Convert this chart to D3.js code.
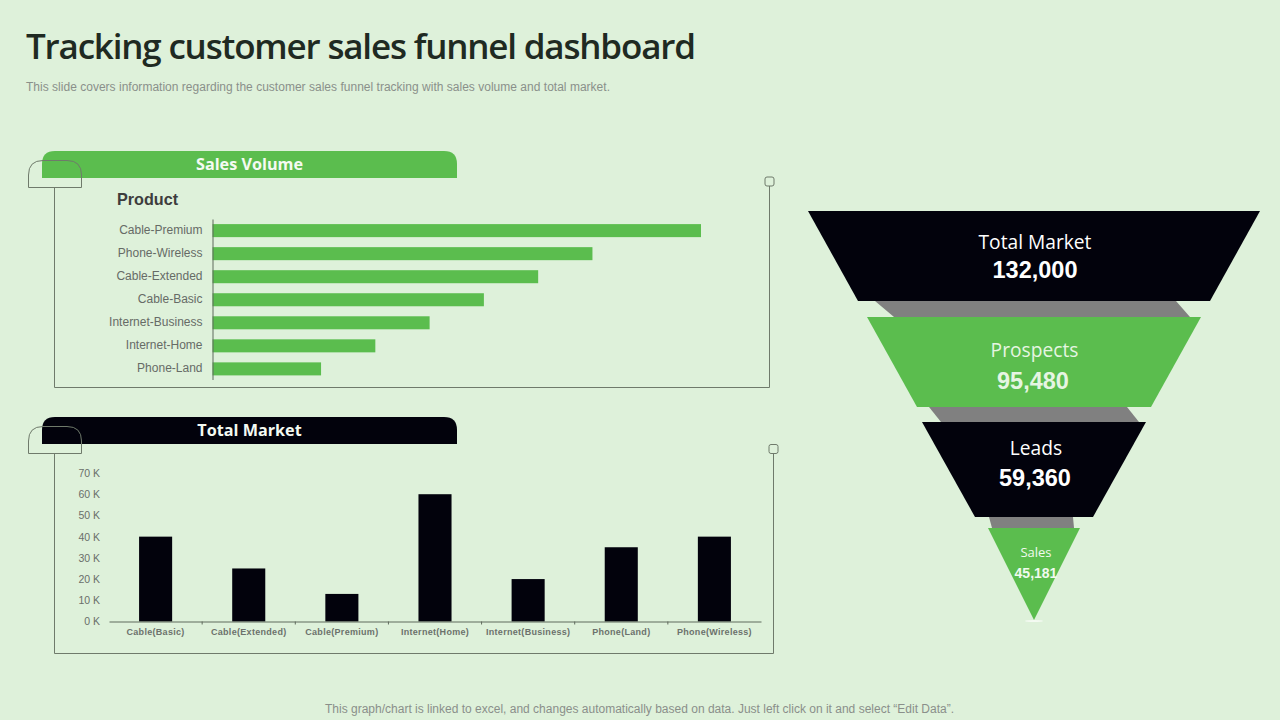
<!DOCTYPE html>
<html>
<head>
<meta charset="utf-8">
<script src="https://d3js.org/d3.v7.min.js"></script>
<style>
  html, body { margin: 0; padding: 0; background: #def1da; }
  svg { display: block; }
  text { font-family: "Liberation Sans", Arial, sans-serif; }
  .head { font-family: "Open Sans", sans-serif; }
  .frame { fill: none; stroke: #6f7a6b; stroke-width: 1px; }
  .axis path, .axis line { stroke: #5f6a5c; }
</style>
</head>
<body>
<div id="chart"></div>
<script>
// sales volume chart
var productNames = ["Cable-Premium", "Phone-Wireless", "Cable-Extended", "Cable-Basic", "Internet-Business", "Internet-Home", "Phone-Land"];
var productVolume = [9, 7, 6, 5, 4, 3, 2];

// total market chart
var marketNames = ["Cable(Basic)", "Cable(Extended)", "Cable(Premium)", "Internet(Home)", "Internet(Business)", "Phone(Land)", "Phone(Wireless)"];
var marketValues = [40, 25, 13, 60, 20, 35, 40];
var marketTicks = [0, 10, 20, 30, 40, 50, 60, 70];

// funnel
var funnelNames = ["Total Market", "Prospects", "Leads", "Sales"];
var funnelValues = [132000, 95480, 59360, 45181];

var green = "#5bbd4e", black = "#02020c", grey = "#808080", bg = "#def1da";

var svg = d3.select("#chart").append("svg").attr("width", 1280).attr("height", 720);

svg.append("text").attr("class", "head")
    .attr("x", 26).attr("y", 59)
    .attr("textLength", 670)
    .attr("font-size", 35).attr("font-weight", 600).attr("fill", "#1f2a22")
    .text("Tracking customer sales funnel dashboard");

svg.append("text")
    .attr("x", 26).attr("y", 91)
    .attr("textLength", 584)
    .attr("font-size", 12).attr("fill", "#8a908a")
    .text("This slide covers information regarding the customer sales funnel tracking with sales volume and total market.");

svg.append("text")
    .attr("x", 325).attr("y", 713)
    .attr("textLength", 629)
    .attr("font-size", 12).attr("fill", "#8a8f8a")
    .text("This graph/chart is linked to excel,  and changes automatically based on data. Just left click on it and select “Edit Data”.");

// header tab + frame around a chart
function panel(top, right, squareTop, color, title) {
    var hdr = d3.path();
    hdr.moveTo(42, top + 27);
    hdr.lineTo(42, top + 13);
    hdr.quadraticCurveTo(42, top, 55, top);
    hdr.lineTo(444, top);
    hdr.quadraticCurveTo(457, top, 457, top + 13);
    hdr.lineTo(457, top + 27);
    hdr.closePath();
    svg.append("path").attr("d", hdr.toString()).attr("fill", color);

    svg.append("text").attr("class", "head")
        .attr("x", 249.5).attr("y", top + 19)
        .attr("text-anchor", "middle")
        .attr("font-size", 16.2).attr("font-weight", 700).attr("fill", "#f4faf2")
        .text(title);

    var tab = d3.path();
    tab.moveTo(28.5, top + 36.5);
    tab.lineTo(28.5, top + 24);
    tab.quadraticCurveTo(28.5, top + 9.5, 43, top + 9.5);
    tab.lineTo(67, top + 9.5);
    tab.quadraticCurveTo(81.5, top + 9.5, 81.5, top + 24);
    tab.lineTo(81.5, top + 36.5);
    tab.closePath();
    svg.append("path").attr("class", "frame").attr("d", tab.toString());

    var bottom = top + 236.5;
    svg.append("path").attr("class", "frame")
        .attr("d", "M54.5," + (top + 36.5) + "V" + bottom + "H" + right + "V" + (squareTop + 9));

    svg.append("rect").attr("class", "frame")
        .attr("x", right - 4.5).attr("y", squareTop).attr("width", 9).attr("height", 9).attr("rx", 2);
}

panel(151, 769.5, 177, green, "Sales Volume");
panel(417, 773.5, 444.5, black, "Total Market");

// ---- sales volume bars
svg.append("text")
    .attr("x", 117).attr("y", 205)
    .attr("font-size", 16.2).attr("font-weight", 700).attr("fill", "#3d3d3d")
    .text("Product");

var xVol = d3.scaleLinear().domain([0, 9]).range([212.5, 701]);
var yVol = d3.scaleBand().domain(productNames).range([219.5, 380]).paddingInner(0.435).paddingOuter(0.2);

svg.selectAll(".volbar").data(productVolume).enter().append("rect")
    .attr("class", "volbar")
    .attr("x", xVol(0))
    .attr("y", function(d, i) { return yVol(productNames[i]); })
    .attr("width", function(d) { return xVol(d) - xVol(0); })
    .attr("height", yVol.bandwidth())
    .attr("fill", green);

var volAxis = svg.append("g").attr("class", "axis")
    .attr("transform", "translate(212.5,-0.5)")
    .call(d3.axisLeft(yVol).tickSize(0).tickPadding(10));
volAxis.selectAll("text").attr("font-size", 12).attr("fill", "#666b66");

// ---- total market bars
var xMkt = d3.scaleBand().domain(marketNames).range([109, 761]).paddingInner(0.645).paddingOuter(0.323);
var xMktAxis = d3.scaleBand().domain(marketNames).range([109, 761]);
var yMkt = d3.scaleLinear().domain([0, 70]).range([621.5, 473]);

svg.selectAll(".mktbar").data(marketValues).enter().append("rect")
    .attr("class", "mktbar")
    .attr("x", function(d, i) { return xMkt(marketNames[i]); })
    .attr("y", function(d) { return yMkt(d); })
    .attr("width", xMkt.bandwidth())
    .attr("height", function(d) { return yMkt(0) - yMkt(d); })
    .attr("fill", black);

var mktAxis = svg.append("g").attr("class", "axis")
    .attr("transform", "translate(0,621.5)")
    .call(d3.axisBottom(xMktAxis).tickSize(0).tickPadding(7));
mktAxis.selectAll("text")
    .attr("font-size", 9).attr("font-weight", 700).attr("letter-spacing", 0.3).attr("fill", "#6c716c");
// tick marks sit between the categories
mktAxis.selectAll(".sep").data(marketNames.slice(1)).enter().append("line")
    .attr("class", "sep")
    .attr("x1", function(d) { return xMktAxis(d); })
    .attr("x2", function(d) { return xMktAxis(d); })
    .attr("y1", 0).attr("y2", 3);

var yAxis = svg.append("g")
    .attr("transform", "translate(100,0)")
    .call(d3.axisLeft(yMkt).tickValues(marketTicks).tickSize(0).tickPadding(0)
        .tickFormat(function(d) { return d + " K"; }));
yAxis.select(".domain").remove();
yAxis.selectAll("text").attr("font-size", 10.5).attr("fill", "#6a6f6a");

// ---- funnel
var cx = 1034;
var funnelWidth = d3.scaleLinear().domain(funnelValues).range([452, 334, 224, 92]);
var funnelFill = [black, green, black, green];
var funnelRows = [[211, 301, 50], [317, 407, 50], [422, 517, 53], [528, 620, 46]]; // top, bottom, inset
var polyLine = d3.line();

var funnelShapes = funnelValues.map(function(v, i) {
    var w = funnelWidth(v) / 2, r = funnelRows[i];
    return [[cx - w, r[0]], [cx + w, r[0]], [cx + w - r[2], r[1]], [cx - w + r[2], r[1]]];
});

// connectors behind the bands
var connectorRows = [[301, 317, 875, 1176, 894, 1190], [407, 422, 929, 1127, 941, 1139], [517, 528, 989, 1073, 992, 1074]];
svg.selectAll(".link").data(connectorRows).enter().append("path")
    .attr("class", "link")
    .attr("d", function(c) {
        return polyLine([[c[2], c[0]], [c[3], c[0]], [c[5], c[1]], [c[4], c[1]]]) + "Z";
    })
    .attr("fill", grey);

svg.selectAll(".band").data(funnelShapes).enter().append("path")
    .attr("class", "band")
    .attr("d", function(d) { return polyLine(d) + "Z"; })
    .attr("fill", function(d, i) { return funnelFill[i]; });

svg.append("ellipse").attr("cx", cx).attr("cy", 621).attr("rx", 9).attr("ry", 1).attr("fill", "#f4faf2");

var nameCfg = [[1035, 249, 19.2], [1034.5, 356.5, 19.2], [1036, 454.5, 19.2], [1036, 557, 13]];
var valueCfg = [[1035, 278, 23.5], [1033, 389, 23.5], [1035, 486, 23.5], [1036, 578, 14]];
var inkFill = ["#ffffff", "#e6f5e2", "#ffffff", "#f1faef"];

svg.selectAll(".fname").data(funnelNames).enter().append("text")
    .attr("class", "fname head")
    .attr("x", function(d, i) { return nameCfg[i][0]; })
    .attr("y", function(d, i) { return nameCfg[i][1]; })
    .attr("font-size", function(d, i) { return nameCfg[i][2]; })
    .attr("font-weight", 400)
    .attr("text-anchor", "middle")
    .attr("fill", function(d, i) { return inkFill[i]; })
    .text(function(d) { return d; });

svg.selectAll(".fval").data(funnelValues).enter().append("text")
    .attr("class", "fval")
    .attr("x", function(d, i) { return valueCfg[i][0]; })
    .attr("y", function(d, i) { return valueCfg[i][1]; })
    .attr("font-size", function(d, i) { return valueCfg[i][2]; })
    .attr("font-weight", 700)
    .attr("text-anchor", "middle")
    .attr("fill", function(d, i) { return inkFill[i]; })
    .text(function(d) { return d3.format(",")(d); });
</script>
</body>
</html>
